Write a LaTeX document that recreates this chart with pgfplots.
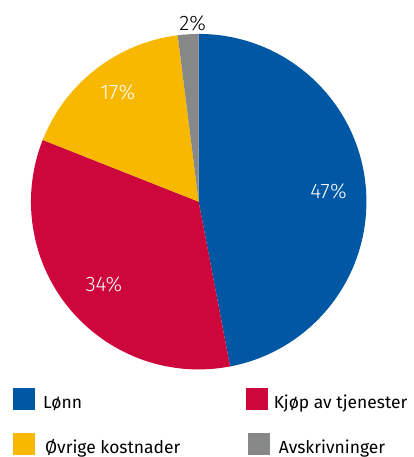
\documentclass[border=0pt]{standalone}
\usepackage{fontspec}
\setmainfont{Fira Sans}
\newfontfamily\lightfont{Fira Sans Light}
\usepackage{pgfplots}
\usepackage{pgfplotstable}
\pgfplotsset{compat=1.18}
\definecolor{cblue}{RGB}{0,87,164}
\definecolor{cred}{RGB}{205,6,60}
\definecolor{cyellow}{RGB}{249,184,0}
\definecolor{cgray}{RGB}{135,136,136}
\pgfplotstableread[col sep=comma]{
label,pct,lx,ly
Lønn,47,329,265
Kjøp av tjenester,34,104,172
Øvrige kostnader,17,118,364
Avskrivninger,2,193,434
}\piedata
\pgfplotstablegetelem{0}{pct}\of\piedata \pgfmathsetmacro{\pA}{\pgfplotsretval}
\pgfplotstablegetelem{1}{pct}\of\piedata \pgfmathsetmacro{\pB}{\pgfplotsretval}
\pgfplotstablegetelem{2}{pct}\of\piedata \pgfmathsetmacro{\pC}{\pgfplotsretval}
\pgfplotstablegetelem{3}{pct}\of\piedata \pgfmathsetmacro{\pD}{\pgfplotsretval}
\pgfmathsetmacro{\tot}{\pA+\pB+\pC+\pD}
\pgfmathsetmacro{\kk}{360/\tot}
\pgfmathsetmacro{\aA}{90}
\pgfmathsetmacro{\aB}{\aA-\kk*\pA}
\pgfmathsetmacro{\aC}{\aB-\kk*\pB}
\pgfmathsetmacro{\aD}{\aC-\kk*\pC}
\pgfmathsetmacro{\aE}{\aD-\kk*\pD}
\begin{document}
\begin{tikzpicture}
\begin{axis}[
  scale only axis, width=414pt, height=457pt,
  xmin=0, xmax=414, ymin=0, ymax=457,
  hide axis, clip=false]
\path (axis cs:0,0) rectangle (axis cs:414,457);
% slices, clockwise from 12 o'clock
\addplot[fill=cblue, draw=none] coordinates {(199,255)} -- ++(\aA:168pt) arc[start angle=\aA, end angle=\aB, radius=168pt] -- cycle;
\addplot[fill=cred, draw=none] coordinates {(199,255)} -- ++(\aB:168pt) arc[start angle=\aB, end angle=\aC, radius=168pt] -- cycle;
\addplot[fill=cyellow, draw=none] coordinates {(199,255)} -- ++(\aC:168pt) arc[start angle=\aC, end angle=\aD, radius=168pt] -- cycle;
\addplot[fill=cgray, draw=none] coordinates {(199,255)} -- ++(\aD:168pt) arc[start angle=\aD, end angle=\aE, radius=168pt] -- cycle;
% percentage labels
\addplot[only marks, mark=none,
  nodes near coords={\pgfplotspointmeta\%},
  nodes near coords style={font=\lightfont\fontsize{21}{24}\selectfont, anchor=center, text=white},
  point meta=explicit symbolic, restrict expr to domain={\coordindex}{0:2}]
  table[x=lx, y=ly, meta=pct] {\piedata};
\addplot[only marks, mark=none,
  nodes near coords={\pgfplotspointmeta\%},
  nodes near coords style={font=\lightfont\fontsize{21}{24}\selectfont, anchor=center, text=black},
  point meta=explicit symbolic, restrict expr to domain={\coordindex}{3:3}]
  table[x=lx, y=ly, meta=pct] {\piedata};
% legend
\fill[cblue] (axis cs:13,46) rectangle (axis cs:35,68);
\node[anchor=base west, inner sep=0pt, font=\fontsize{17.5}{20}\selectfont] at (axis cs:43,48) {Lønn};
\fill[cred] (axis cs:246,46) rectangle (axis cs:268,68);
\node[anchor=base west, inner sep=0pt, font=\fontsize{17.5}{20}\selectfont] at (axis cs:274,48) {Kjøp av tjenester};
\fill[cyellow] (axis cs:13,1) rectangle (axis cs:35,23);
\node[anchor=base west, inner sep=0pt, font=\fontsize{17.5}{20}\selectfont] at (axis cs:45,3) {Øvrige kostnader};
\fill[cgray] (axis cs:248,1) rectangle (axis cs:270,23);
\node[anchor=base west, inner sep=0pt, font=\fontsize{17.5}{20}\selectfont] at (axis cs:279,3) {Avskrivninger};
\end{axis}
\end{tikzpicture}
\end{document}
